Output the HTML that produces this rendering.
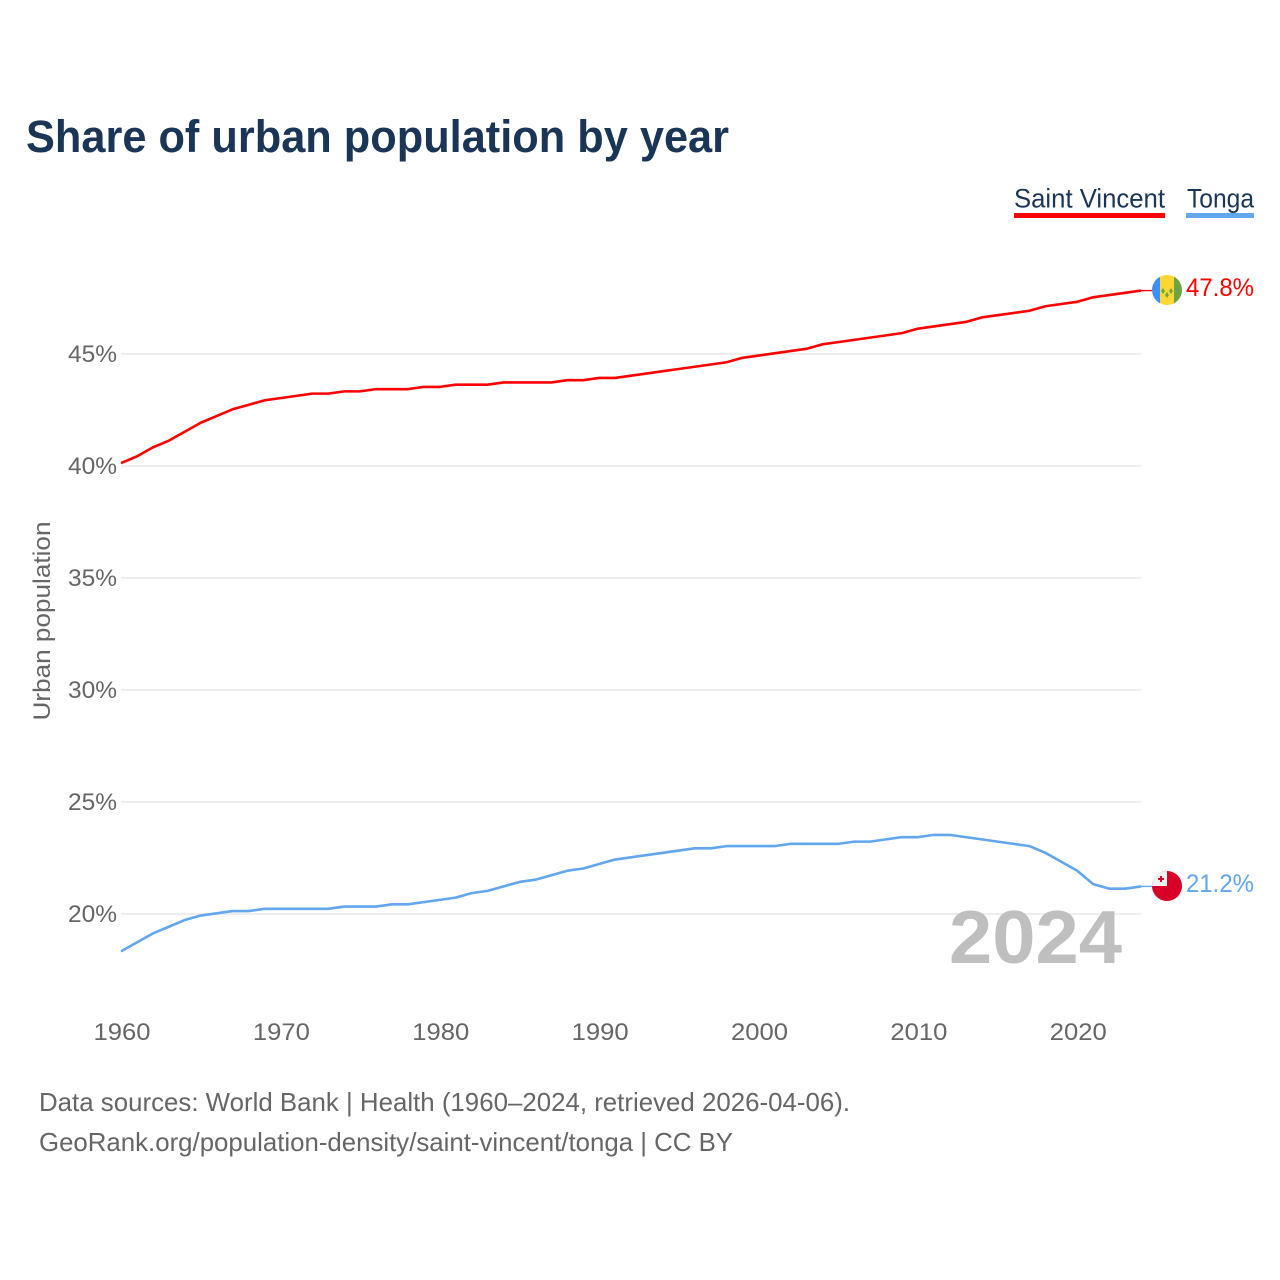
<!DOCTYPE html>
<html lang="en">
<head>
<meta charset="utf-8">
<title>Share of urban population by year</title>
<style>
html,body{margin:0;padding:0;background:#fff;}
svg{display:block;}
text{font-family:"Liberation Sans",sans-serif;}
</style>
</head>
<body>
<svg id="chart" xmlns="http://www.w3.org/2000/svg" width="1280" height="1280" viewBox="0 0 1280 1280">
  <rect x="0" y="0" width="1280" height="1280" fill="#ffffff"/>
  <text x="26" y="152" font-size="45" font-weight="700" fill="#1a3555" textLength="703" lengthAdjust="spacingAndGlyphs">Share of urban population by year</text>

  <g>
    <text x="1014" y="207.5" font-size="27" fill="#1a3555" textLength="151" lengthAdjust="spacingAndGlyphs">Saint Vincent</text>
    <rect x="1014" y="213" width="151" height="5" fill="#ff0000"/>
  </g>
  <g>
    <text x="1187" y="207.5" font-size="27" fill="#1a3555" textLength="67" lengthAdjust="spacingAndGlyphs">Tonga</text>
    <rect x="1186" y="213" width="68" height="5" fill="#62a6ee"/>
  </g>

  <g id="grid"></g>
  <g id="yticks"></g>
  <g id="xticks"></g>
  <text transform="translate(50 621) rotate(-90)" text-anchor="middle" font-size="24" fill="#666666" textLength="199" lengthAdjust="spacingAndGlyphs">Urban population</text>

  <text x="949" y="963" font-size="75" font-weight="700" fill="#bfbfbf" textLength="173" lengthAdjust="spacingAndGlyphs">2024</text>

  <g id="series"></g>

  <defs>
    <clipPath id="flag-clip-a"><circle cx="1167" cy="290" r="15"/></clipPath>
    <clipPath id="flag-clip-b"><circle cx="1167" cy="886" r="15"/></clipPath>
  </defs>
  <g clip-path="url(#flag-clip-a)">
    <rect x="1152" y="275" width="8" height="30" fill="#3f8ff0"/>
    <rect x="1160" y="275" width="14" height="30" fill="#fdd835"/>
    <rect x="1174" y="275" width="8" height="30" fill="#6da544"/>
    <path d="M1163 288l2 3-2 3-2-3zM1171 288l2 3-2 3-2-3zM1167 292l2 3-2 3-2-3z" fill="#6da544"/>
  </g>
  <g clip-path="url(#flag-clip-b)">
    <rect x="1152" y="871" width="30" height="30" fill="#d80027"/>
    <rect x="1152" y="871" width="15" height="15" fill="#f0f0f0"/>
    <path d="M1160 876h2v2h2v2h-2v2h-2v-2h-2v-2h2z" fill="#d80027"/>
  </g>

  <text id="label-a" x="1186" y="296" font-size="25" fill="#ff0000" textLength="68" lengthAdjust="spacingAndGlyphs"></text>
  <text id="label-b" x="1186" y="892" font-size="25" fill="#62a6ee" textLength="68" lengthAdjust="spacingAndGlyphs"></text>

  <text x="39" y="1111" font-size="26" fill="#666666" textLength="811" lengthAdjust="spacingAndGlyphs">Data sources: World Bank | Health (1960–2024, retrieved 2026-04-06).</text>
  <text x="39" y="1151" font-size="26" fill="#666666" textLength="694" lengthAdjust="spacingAndGlyphs">GeoRank.org/population-density/saint-vincent/tonga | CC BY</text>
</svg>
<script>
const years = [1960,1961,1962,1963,1964,1965,1966,1967,1968,1969,1970,1971,1972,1973,1974,1975,1976,1977,1978,1979,1980,1981,1982,1983,1984,1985,1986,1987,1988,1989,1990,1991,1992,1993,1994,1995,1996,1997,1998,1999,2000,2001,2002,2003,2004,2005,2006,2007,2008,2009,2010,2011,2012,2013,2014,2015,2016,2017,2018,2019,2020,2021,2022,2023,2024];
const saintVincent = [40.1,40.4,40.8,41.1,41.5,41.9,42.2,42.5,42.7,42.9,43.0,43.1,43.2,43.2,43.3,43.3,43.4,43.4,43.4,43.5,43.5,43.6,43.6,43.6,43.7,43.7,43.7,43.7,43.8,43.8,43.9,43.9,44.0,44.1,44.2,44.3,44.4,44.5,44.6,44.8,44.9,45.0,45.1,45.2,45.4,45.5,45.6,45.7,45.8,45.9,46.1,46.2,46.3,46.4,46.6,46.7,46.8,46.9,47.1,47.2,47.3,47.5,47.6,47.7,47.8];
const tonga = [18.3,18.7,19.1,19.4,19.7,19.9,20.0,20.1,20.1,20.2,20.2,20.2,20.2,20.2,20.3,20.3,20.3,20.4,20.4,20.5,20.6,20.7,20.9,21.0,21.2,21.4,21.5,21.7,21.9,22.0,22.2,22.4,22.5,22.6,22.7,22.8,22.9,22.9,23.0,23.0,23.0,23.0,23.1,23.1,23.1,23.1,23.2,23.2,23.3,23.4,23.4,23.5,23.5,23.4,23.3,23.2,23.1,23.0,22.7,22.3,21.9,21.3,21.1,21.1,21.2];
const yTicks = [20,25,30,35,40,45];
const xTicks = [1960,1970,1980,1990,2000,2010,2020];

const NS = 'http://www.w3.org/2000/svg';
function xScale(year) { return 121 + (year - 1960) * (1020 / 64); }
function yScale(value) { return 914 - (value - 20) * 22.4; }
function make(tag, attrs, parent) {
  const el = document.createElementNS(NS, tag);
  for (const k in attrs) el.setAttribute(k, attrs[k]);
  parent.appendChild(el);
  return el;
}

const grid = document.getElementById('grid');
const yG = document.getElementById('yticks');
yTicks.forEach(function (t) {
  const line = make('line', {x1: 121, x2: 1141, y1: yScale(t), y2: yScale(t), stroke: '#eeeeee', 'stroke-width': 2}, grid);
  
  
  const label = make('text', {x: 117, y: yScale(t) + 8, 'text-anchor': 'end', 'font-size': 24, fill: '#666666', textLength: 49, lengthAdjust: 'spacingAndGlyphs'}, yG);
  label.textContent = t + '%';
  
  
});

const xG = document.getElementById('xticks');
xTicks.forEach(function (t) {
  const label = make('text', {x: xScale(t) + 1, y: 1040, 'text-anchor': 'middle', 'font-size': 24, fill: '#666666', textLength: 57, lengthAdjust: 'spacingAndGlyphs'}, xG);
  label.textContent = t;
  
  
});

const seriesG = document.getElementById('series');
function drawSeries(values, color, name, labelId) {
  const pts = values.map(function (v, i) { return xScale(years[i]) + ',' + (yScale(v) - 0.7); }).join(' ');
  const line = make('polyline', {points: pts, fill: 'none', stroke: color, 'stroke-width': 2.6, 'stroke-linejoin': 'round'}, seriesG);
  
  
  const last = values[values.length - 1];
  const lastX = xScale(years[years.length - 1]);
  const conn = make('line', {x1: lastX, y1: yScale(last) - 0.7, x2: lastX + 11, y2: yScale(last) - 0.7, stroke: color, 'stroke-width': 1.4}, seriesG);
  
  
  document.getElementById(labelId).textContent = last.toFixed(1) + '%';
}
drawSeries(saintVincent, '#ff0000', 'saint-vincent', 'label-a');
drawSeries(tonga, '#62a6ee', 'tonga', 'label-b');
</script>
</body>
</html>
